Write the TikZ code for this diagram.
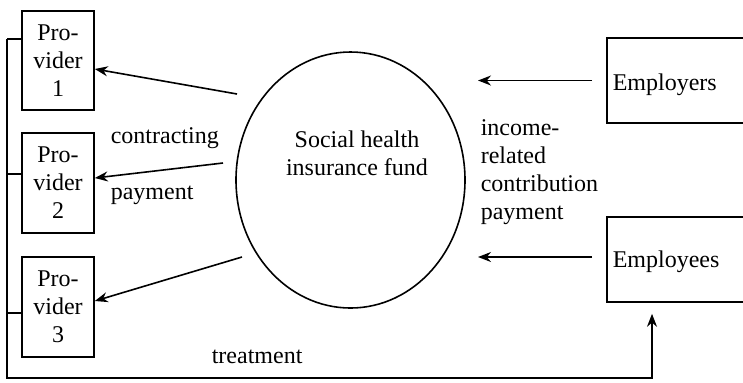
\documentclass[tikz,border=0pt]{standalone}
\usepackage{fontspec}
\setmainfont{Liberation Serif}
\usetikzlibrary{arrows.meta,calc,shapes.geometric}
\begin{document}
\begin{tikzpicture}[x=0.5pt,y=-0.5pt, line width=0.8pt,
  box/.style={draw, rectangle, inner sep=0pt, align=center, font=\fontsize{12}{14}\selectfont},
  txt/.style={inner sep=0pt, align=left, font=\fontsize{12}{14}\selectfont},
  arr/.style={-{Stealth[length=6.5pt,width=5pt]}}]
\useasboundingbox (0,0) rectangle (743,382);
\clip (0,0) rectangle (743,382);
% providers
\node[box, minimum width=36pt, minimum height=49.5pt] (p1) at (58,60.5) {Pro-\\vider\\1};
\node[box, minimum width=36pt, minimum height=50pt] (p2) at (58,183) {Pro-\\vider\\2};
\node[box, minimum width=36pt, minimum height=50pt] (p3) at (58,307) {Pro-\\vider\\3};
% fund
\node[draw, ellipse, minimum width=114.5pt, minimum height=128pt, inner sep=0pt] (fund) at (350.5,180) {};
\node[txt, align=center] (fundtxt) at (357,153) {Social health\\insurance fund};
% employers / employees
\node[draw, rectangle, minimum width=80pt, minimum height=42.5pt, inner sep=0pt] (emp) at (687,80.5) {};
\node[txt, anchor=west] (emptxt) at (612,85) {Employers};
\node[draw, rectangle, minimum width=80pt, minimum height=42.5pt, inner sep=0pt] (ees) at (687,259.5) {};
\node[txt, anchor=west] (eestxt) at (612,262) {Employees};
% labels
\node[txt, anchor=west] (contr) at (110,138) {contracting};
\node[txt, anchor=west] (paym) at (110,195) {payment};
\node[txt, anchor=west] (income) at (480,172) {income-\\related\\contribution\\payment};
\node[txt, anchor=west] (treat) at (211,357) {treatment};
% arrows from fund to providers
\coordinate (a1s) at (237,94);
\coordinate (a1e) at ($(p1.east)+(0,8.5)$);
\coordinate (a2s) at (223,163);
\coordinate (a2e) at ($(p2.east)+(0,-5)$);
\coordinate (a3s) at (242,257);
\coordinate (a3e) at ($(p3.east)+(0,-6)$);
\draw[arr] (a1s) -- (a1e);
\draw[arr] (a2s) -- (a2e);
\draw[arr] (a3s) -- (a3e);
% arrows from employers/employees to fund
\coordinate (b1s) at ($(emp.west)+(-14,0)$);
\coordinate (b1e) at (478,80.5);
\coordinate (b2s) at ($(ees.west)+(-14,-2.5)$);
\coordinate (b2e) at (478,257);
\draw[arr] (b1s) -- (b1e);
\draw[arr] (b2s) -- (b2e);
% treatment bus
\coordinate (bus1) at (7,39);
\coordinate (bus2) at (7,174);
\coordinate (bus3) at (7,313);
\coordinate (busb) at (7,378);
\coordinate (treatend) at ($(ees.south)+(-35,11)$);
\draw (bus1) -- (bus1 -| p1.west);
\draw (bus2) -- (bus2 -| p2.west);
\draw (bus3) -- (bus3 -| p3.west);
\draw[arr] (bus1) -- (busb) -| (treatend);
\end{tikzpicture}
\end{document}
